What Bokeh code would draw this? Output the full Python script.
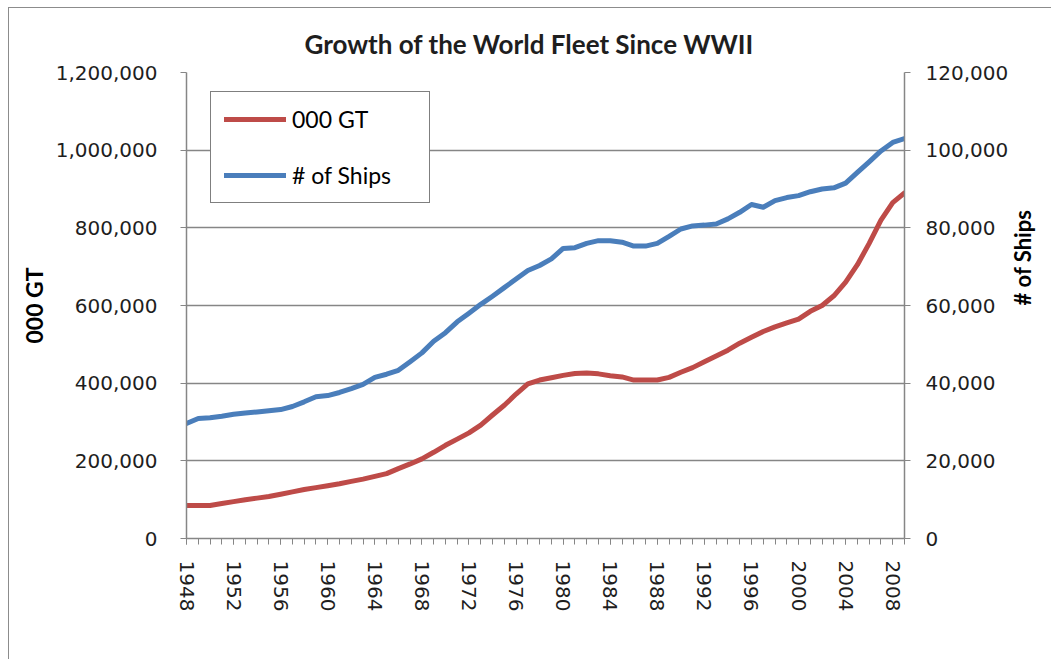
import math
from bokeh.plotting import figure
from bokeh.models import Range1d, LinearAxis, FixedTicker, NumeralTickFormatter
from bokeh.embed import file_html
from bokeh.resources import INLINE

# ---- data ----
years = list(range(1948, 2010))
gt_000 = [85000, 85000, 85000, 90000, 95000, 100000, 104000, 108000, 114000, 120000,
          126000, 131000, 136000, 141000, 147000, 153000, 160000, 167000, 180000, 192000,
          205000, 222000, 240000, 256000, 272000, 292000, 318000, 343000, 372000, 398000,
          408000, 414000, 420000, 425000, 426000, 424000, 419000, 416000, 408000, 408000,
          408000, 415000, 428000, 440000, 455000, 470000, 485000, 503000, 518000, 533000,
          545000, 555000, 565000, 585000, 600000, 625000, 660000, 705000, 760000, 820000,
          865000, 890000]
ships = [29600, 30900, 31100, 31500, 32000, 32300, 32600, 32900, 33200, 34000,
         35200, 36500, 36800, 37600, 38600, 39700, 41500, 42300, 43300, 45500,
         47800, 50800, 53000, 55800, 58000, 60300, 62400, 64600, 66800, 69000,
         70300, 72000, 74700, 74900, 76000, 76700, 76700, 76300, 75300, 75300,
         76000, 77800, 79700, 80500, 80700, 81000, 82300, 84000, 86000, 85300,
         87000, 87800, 88300, 89300, 90000, 90300, 91500, 94300, 97000, 99800,
         102000, 103000]
year_ticks = list(range(1948, 2009, 4))
gt_ticks = [0, 200000, 400000, 600000, 800000, 1000000, 1200000]
ship_ticks = [0, 20000, 40000, 60000, 80000, 100000, 120000]
title_text = "Growth of the World Fleet Since WWII"
series_names = ["000 GT", "# of Ships"]

GRAY = "#868686"
TXT = "#1e1e1e"
TICK_FONT = "DejaVu Sans"
TICK_SIZE = "20px"

p = figure(width=1043, height=652, output_backend="svg", toolbar_location=None,
           x_range=Range1d(1948, 2009), y_range=Range1d(0, 1200000),
           min_border_left=177, min_border_right=146, min_border_top=64,
           min_border_bottom=122)
p.styles = {"margin-left": "8px", "margin-top": "7px",
            "border-left": "1px solid #8c8c8c", "border-top": "1px solid #8c8c8c"}
p.outline_line_color = None
p.background_fill_color = "white"
p.border_fill_color = "white"

p.extra_y_ranges = {"ships": Range1d(0, 120000)}

# title
p.title.text = title_text
p.title.align = "left"
p.title.offset = 118
p.title.text_font = "Lato"
p.title.text_font_style = "bold"
p.title.text_font_size = "26px"
p.title.text_color = TXT
p.title.standoff = 25

# x axis
xa = p.xaxis[0]
xa.ticker = FixedTicker(ticks=year_ticks, minor_ticks=years)
xa.major_label_orientation = "vertical"
xa.major_tick_out = 6
xa.major_tick_in = 0
xa.minor_tick_out = 6
xa.minor_tick_in = 0
xa.axis_line_color = GRAY
xa.axis_line_width = 1.5
xa.major_tick_line_color = GRAY
xa.minor_tick_line_color = GRAY
xa.major_label_standoff = 16
xa.major_label_text_font = TICK_FONT
xa.major_label_text_font_size = TICK_SIZE
xa.major_label_text_color = TXT

# left y axis
ya = p.yaxis[0]
ya.ticker = FixedTicker(ticks=gt_ticks, minor_ticks=[])
ya.formatter = NumeralTickFormatter(format="0,0")
ya.major_tick_out = 6
ya.major_tick_in = 0
ya.axis_line_color = GRAY
ya.axis_line_width = 1.5
ya.major_tick_line_color = GRAY
ya.major_label_standoff = 23
ya.major_label_text_font = TICK_FONT
ya.major_label_text_font_size = TICK_SIZE
ya.major_label_text_color = TXT
ya.axis_label = series_names[0]
ya.axis_label_standoff = 5
ya.axis_label_text_font = "Lato"
ya.axis_label_text_font_style = "bold"
ya.axis_label_text_font_size = "23px"
ya.axis_label_text_color = "black"

# right y axis
ra = LinearAxis(y_range_name="ships")
ra.ticker = FixedTicker(ticks=ship_ticks, minor_ticks=[])
ra.formatter = NumeralTickFormatter(format="0,0")
ra.major_tick_out = 6
ra.major_tick_in = 0
ra.axis_line_color = GRAY
ra.axis_line_width = 1.5
ra.major_tick_line_color = GRAY
ra.major_label_standoff = 15
ra.major_label_text_font = TICK_FONT
ra.major_label_text_font_size = TICK_SIZE
ra.major_label_text_color = TXT
ra.axis_label = series_names[1]
ra.axis_label_standoff = 11
ra.axis_label_text_font = "Lato"
ra.axis_label_text_font_style = "bold"
ra.axis_label_text_font_size = "22px"
ra.axis_label_text_color = "black"
try:
    ra.axis_label_orientation = math.pi / 2
except Exception:
    pass
p.add_layout(ra, "right")

p.xgrid.visible = False
p.ygrid.ticker = FixedTicker(ticks=gt_ticks)
p.ygrid.grid_line_color = GRAY
p.ygrid.grid_line_width = 1.5

# lines
p.line(years, gt_000, line_color="#BE4B48", line_width=5, line_join="round",
       line_cap="round", legend_label=series_names[0])
p.line(years, ships, y_range_name="ships", line_color="#4A7EBB", line_width=5,
       line_join="round", line_cap="round", legend_label=series_names[1])

lg = p.legend[0]
lg.location = (24, 335)
lg.border_line_color = "black"
lg.border_line_width = 1.5
lg.background_fill_color = "white"
lg.background_fill_alpha = 1
lg.padding = 13
lg.spacing = 28
lg.glyph_width = 62
lg.glyph_height = 24
lg.label_height = 24
lg.label_width = 124
lg.label_standoff = 6
lg.label_text_font = "Lato"
lg.label_text_font_size = "23px"
lg.label_text_color = "black"
lg.margin = 0

open("out.html", "w").write(file_html(p, INLINE))
